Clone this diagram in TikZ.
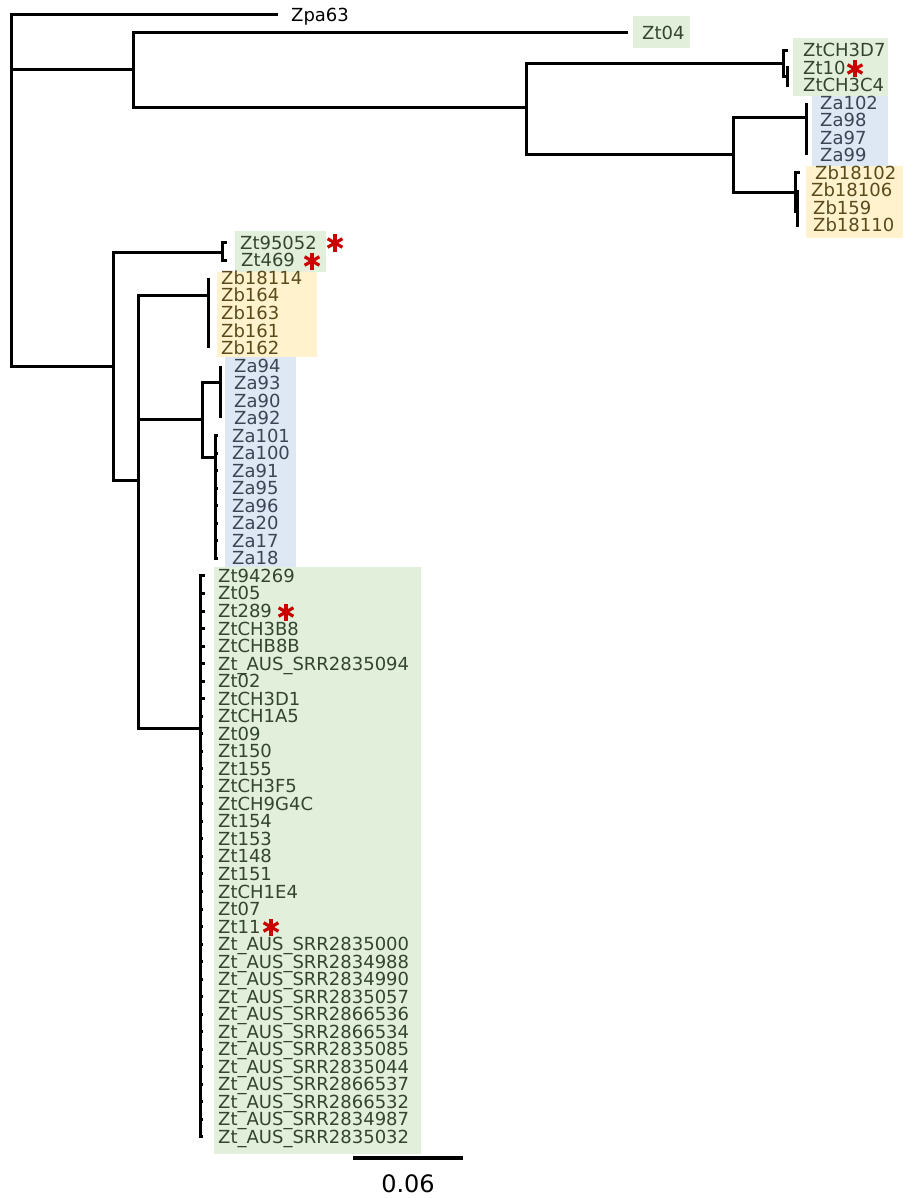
\documentclass[tikz,border=0pt]{standalone}
\usepackage{fontspec}
\setmainfont{DejaVu Sans}
\definecolor{gbg}{HTML}{E2EFDA}
\definecolor{bbg}{HTML}{DEE8F4}
\definecolor{ybg}{HTML}{FFF2CC}
\definecolor{gtx}{HTML}{34452F}
\definecolor{btx}{HTML}{3A4555}
\definecolor{ytx}{HTML}{5A4A1C}
\definecolor{astc}{HTML}{CC0000}
\newcommand\mkleaf[5]{%
  \pgfmathsetmacro\yy{15+17.53*#1}%
  \coordinate (T#1) at (#3,\yy);%
  \node[lab,text=#5] (L#1) at (#4,\yy+6.5) {#2};%
}
\newcommand\redast[2]{%
  \foreach \a in {90,30,150}{\draw[astl] (#1,#2) ++(\a:8.5) -- ++(\a+180:17);}%
}
\begin{document}
\begin{tikzpicture}[x=1pt,y=-1pt,
  br/.style={line width=3pt,black},
  lab/.style={anchor=base west,inner sep=0pt,font=\fontsize{18}{18}\selectfont},
  astl/.style={line width=3.2pt,astc},
  bar/.style={line width=4pt,black}]
\useasboundingbox (0,0) rectangle (903,1198);
% background boxes
\fill[gbg] (633,16) rectangle (690,48);
\fill[gbg] (793,38) rectangle (888,96);
\fill[bbg] (812,96) rectangle (888,166);
\fill[ybg] (806,166) rectangle (903,238);
\fill[gbg] (235,231) rectangle (326,272);
\fill[ybg] (217,272) rectangle (317,357);
\fill[bbg] (225,357) rectangle (296,567);
\fill[gbg] (214,567) rectangle (421,1154);
% leaves
\mkleaf{0}{Zpa63}{278}{291}{black}
\mkleaf{1}{Zt04}{628}{642}{gtx}
\mkleaf{2}{ZtCH3D7}{788}{803}{gtx}
\mkleaf{3}{Zt10}{789}{803}{gtx}
\mkleaf{4}{ZtCH3C4}{789}{803}{gtx}
\foreach \i/\n in {5/Za102,6/Za98,7/Za97,8/Za99}{\mkleaf{\i}{\n}{806}{820}{btx}}
\mkleaf{9}{Zb18102}{800}{815}{ytx}
\mkleaf{10}{Zb18106}{797}{811}{ytx}
\mkleaf{11}{Zb159}{799}{813}{ytx}
\mkleaf{12}{Zb18110}{799}{813}{ytx}
\mkleaf{13}{Zt95052}{227}{240}{gtx}
\mkleaf{14}{Zt469}{227}{241}{gtx}
\foreach \i/\n in {15/Zb18114,16/Zb164,17/Zb163,18/Zb161,19/Zb162}{\mkleaf{\i}{\n}{208}{221}{ytx}}
\foreach \i/\n in {20/Za94,21/Za93,22/Za90,23/Za92}{\mkleaf{\i}{\n}{220}{234}{btx}}
\foreach \i/\n in {24/Za101,25/Za100,26/Za91,27/Za95,28/Za96,29/Za20,30/Za17,31/Za18}{\mkleaf{\i}{\n}{218}{232}{btx}}
\foreach \i/\n in {32/Zt94269,33/Zt05,34/Zt289,35/ZtCH3B8,36/ZtCHB8B,37/Zt\_AUS\_SRR2835094,38/Zt02,39/ZtCH3D1}{\mkleaf{\i}{\n}{205}{218}{gtx}}
\foreach \i/\n in {40/ZtCH1A5,41/Zt09,42/Zt150,43/Zt155,44/ZtCH3F5,45/ZtCH9G4C,46/Zt154,47/Zt153,48/Zt148,49/Zt151,50/ZtCH1E4,51/Zt07,52/Zt11,53/Zt\_AUS\_SRR2835000,54/Zt\_AUS\_SRR2834988,55/Zt\_AUS\_SRR2834990,56/Zt\_AUS\_SRR2835057,57/Zt\_AUS\_SRR2866536,58/Zt\_AUS\_SRR2866534,59/Zt\_AUS\_SRR2835085,60/Zt\_AUS\_SRR2835044,61/Zt\_AUS\_SRR2866537,62/Zt\_AUS\_SRR2866532,63/Zt\_AUS\_SRR2834987,64/Zt\_AUS\_SRR2835032}{\mkleaf{\i}{\n}{203}{218}{gtx}}
% internal nodes
\coordinate (R) at (11,190);
\coordinate (N133) at (133,70);
\coordinate (N526) at (526,108);
\coordinate (N783) at (783,63.5);
\coordinate (N787) at (787,77);
\coordinate (N733) at (733,155);
\coordinate (N806) at (806,118);
\coordinate (N795) at (795,193);
\coordinate (N797) at (797,212);
\coordinate (N113) at (113,366);
\coordinate (N222) at (222,252);
\coordinate (N138) at (138,480);
\coordinate (N208) at (208,295);
\coordinate (N202) at (202,419);
\coordinate (N220) at (220,382);
\coordinate (N215) at (215,457);
\coordinate (N200) at (200,728);
% branches
\foreach \c in {T0,N133,N113} \draw[br] (R) |- (\c);
\foreach \c in {T1,N526} \draw[br] (N133) |- (\c);
\foreach \c in {N783,N733} \draw[br] (N526) |- (\c);
\foreach \c in {T2,N787} \draw[br] (N783) |- (\c);
\foreach \c in {T3,T4} \draw[br] (N787) |- (\c);
\foreach \c in {N806,N795} \draw[br] (N733) |- (\c);
\foreach \c in {T5,T6,T7,T8} \draw[br] (N806) |- (\c);
\foreach \c in {T9,N797} \draw[br] (N795) |- (\c);
\foreach \c in {T10,T11,T12} \draw[br] (N797) |- (\c);
\foreach \c in {N222,N138} \draw[br] (N113) |- (\c);
\foreach \c in {T13,T14} \draw[br] (N222) |- (\c);
\foreach \c in {N208,N202,N200} \draw[br] (N138) |- (\c);
\foreach \c in {T15,T16,T17,T18,T19} \draw[br] (N208) |- (\c);
\foreach \c in {N220,N215} \draw[br] (N202) |- (\c);
\foreach \c in {T20,T21,T22,T23} \draw[br] (N220) |- (\c);
\foreach \i in {24,...,31} \draw[br] (N215) |- (T\i);
\foreach \i in {32,...,64} \draw[br] (N200) |- (T\i);
% red asterisks
\redast{335}{243}
\redast{312}{261}
\redast{855}{69}
\redast{286}{612}
\redast{271}{927}
% scale bar
\coordinate (SB1) at (353,1158);
\coordinate (SB2) at (463,1158);
\draw[bar] (SB1) -- (SB2);
\node[anchor=base,inner sep=0pt,font=\fontsize{24}{24}\selectfont] (SBL) at (408,1192) {0.06};
\end{tikzpicture}
\end{document}
